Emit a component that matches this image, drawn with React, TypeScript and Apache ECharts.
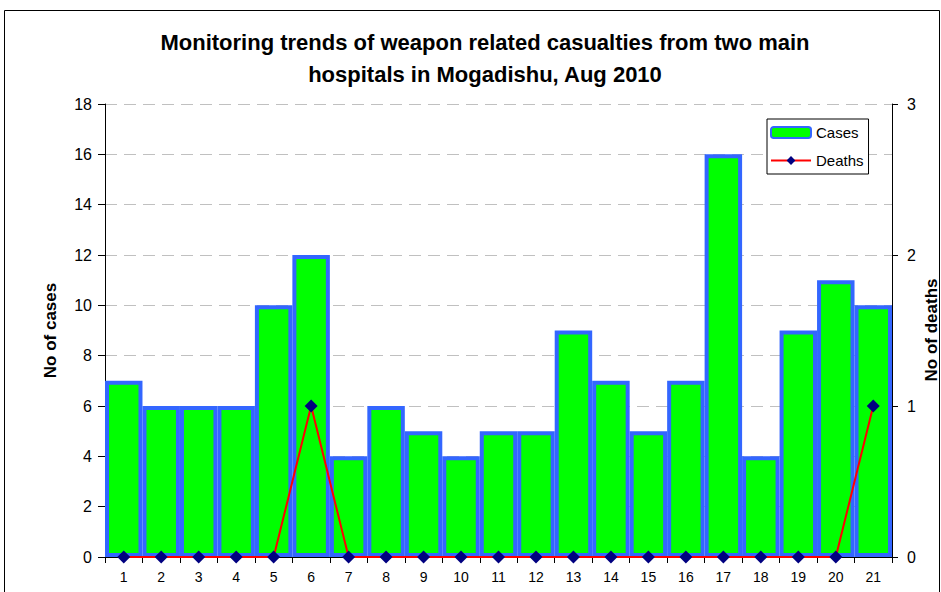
import React, { useEffect, useRef } from "react";
import * as echarts from "echarts";

const days = ["1","2","3","4","5","6","7","8","9","10","11","12","13","14","15","16","17","18","19","20","21"];
const cases = [7, 6, 6, 6, 10, 12, 4, 6, 5, 4, 5, 5, 9, 7, 5, 7, 16, 4, 9, 11, 10];
const deaths = [0, 0, 0, 0, 0, 1, 0, 0, 0, 0, 0, 0, 0, 0, 0, 0, 0, 0, 0, 0, 1];
const leftAxisName = "No of cases";
const rightAxisName = "No of deaths";

export default function App() {
  const ref = useRef<HTMLDivElement>(null);
  useEffect(() => {
    if (!ref.current) return;
    const chart = echarts.init(ref.current, null, { renderer: "svg" });
    const font = "Liberation Sans, Arial, sans-serif";
    chart.setOption({
      animation: false,
      backgroundColor: "#ffffff",
      textStyle: { fontFamily: font },
      title: {
        text: "Monitoring trends of weapon related casualties from two main\nhospitals in Mogadishu, Aug 2010",
        left: 480,
        textAlign: "center",
        top: 21,
        textStyle: { fontFamily: font, fontSize: 22, fontWeight: "bold", color: "#000", lineHeight: 32 },
      },
      graphic: [
        { type: "rect", shape: { x: 4.5, y: 10.5, width: 935, height: 600 }, style: { fill: "none", stroke: "#000", lineWidth: 1 }, silent: true, z: -1 },
        {
          type: "text",
          x: 931,
          y: 330,
          rotation: Math.PI / 2,
          silent: true,
          style: { text: rightAxisName, fontFamily: font, fontSize: 17, fontWeight: "bold", fill: "#000", align: "center", verticalAlign: "middle" },
        },
      ],
      legend: {
        orient: "vertical",
        left: 767,
        top: 119,
        padding: [6, 5, 6, 3],
        borderColor: "#000",
        borderWidth: 1,
        backgroundColor: "#fff",
        itemWidth: 40,
        itemHeight: 11,
        itemGap: 13,
        textStyle: { fontFamily: font, fontSize: 15, color: "#000" },
        data: [
          { name: "Cases", icon: "roundRect" },
          { name: "Deaths" },
        ],
      },
      grid: { left: 105, right: 49, top: 104, bottom: 35, outerBoundsMode: "none", containLabel: false },
      xAxis: {
        type: "category",
        data: days,
        boundaryGap: true,
        axisLine: { lineStyle: { color: "#000", width: 1 } },
        axisTick: { show: true, length: 6, alignWithLabel: false, lineStyle: { color: "#000" } },
        axisLabel: { color: "#000", fontSize: 14, fontFamily: font, margin: 13 },
      },
      yAxis: [
        {
          type: "value",
          min: 0,
          max: 18,
          interval: 2,
          name: leftAxisName,
          nameLocation: "middle",
          nameGap: 46,
          nameTextStyle: { fontFamily: font, fontSize: 17, fontWeight: "bold", color: "#000" },
          axisLine: { show: true, lineStyle: { color: "#000" } },
          axisTick: { show: true, length: 7, lineStyle: { color: "#000" } },
          axisLabel: { color: "#000", fontSize: 16, fontFamily: font, margin: 13 },
          splitLine: { show: true, lineStyle: { color: "#C0C0C0", type: [12, 7], width: 1 } },
        },
        {
          type: "value",
          min: 0,
          max: 3,
          interval: 1,
          position: "right",
          axisLine: { show: true, lineStyle: { color: "#000" } },
          axisTick: { show: true, length: 6, lineStyle: { color: "#000" } },
          axisLabel: { color: "#000", fontSize: 16, fontFamily: font, margin: 15 },
          splitLine: { show: false },
        },
      ],
      series: [
        {
          name: "Cases",
          type: "bar",
          data: cases,
          barCategoryGap: "0%",
          itemStyle: { color: "#00FF00", borderColor: "#3366FF", borderWidth: 4 },
        },
        {
          name: "Deaths",
          type: "line",
          yAxisIndex: 1,
          data: deaths,
          symbol: "diamond",
          symbolSize: 13,
          lineStyle: { color: "#FF0000", width: 2 },
          itemStyle: { color: "#000080" },
          z: 5,
        },
      ],
    });
    return () => chart.dispose();
  }, []);
  return (
    <div style={{ position: "fixed", left: 0, top: 0, width: 941, height: 592 }}>
      <div ref={ref} style={{ width: 941, height: 592 }} />
    </div>
  );
}
